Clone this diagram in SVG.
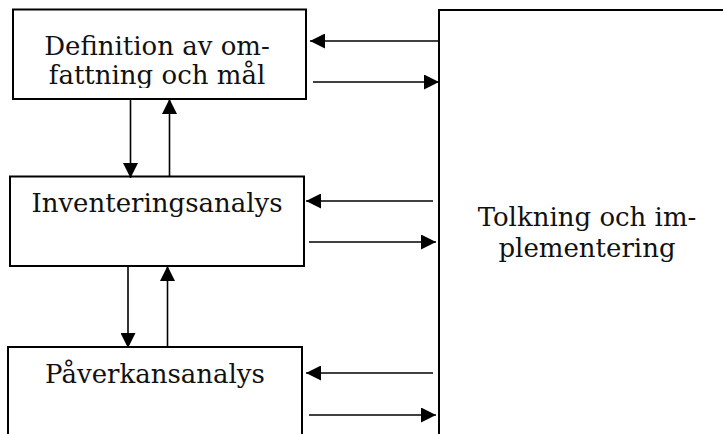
<svg xmlns="http://www.w3.org/2000/svg" width="723" height="434" viewBox="0 0 723 434">
<style>
.box{fill:#fff;stroke:#000;stroke-width:2}
.t{font-family:"DejaVu Serif","Liberation Serif",serif;font-size:26px;fill:#111;text-anchor:middle}
.c{stroke:#000;stroke-width:1.6;fill:none}
</style>
<defs>
<marker id="ah" markerWidth="15" markerHeight="15" viewBox="0 0 15 15" refX="15" refY="7.5" orient="auto" markerUnits="userSpaceOnUse">
<path d="M0,0 L15,7.5 L0,15 Z" fill="#000"/>
</marker>
<clipPath id="cl1"><rect x="14" y="10" width="291" height="78"/></clipPath>
</defs>
<rect width="723" height="434" fill="#fff"/>
<g id="tolkning">
<rect class="box" x="439" y="10" width="300" height="440"/>
<text class="t" x="587" y="226">Tolkning och im-</text>
<text class="t" x="587" y="257">plementering</text>
</g>
<g id="definition">
<rect class="box" x="13" y="9.5" width="293" height="89.5"/>
<g clip-path="url(#cl1)">
<text class="t" x="157" y="55">Definition av om-</text>
<text class="t" x="157" y="84">fattning och mål</text>
</g>
</g>
<g id="inventering">
<rect class="box" x="10" y="176.5" width="294" height="89.5"/>
<text class="t" x="157" y="212">Inventeringsanalys</text>
</g>
<g id="paverkan">
<rect class="box" x="8" y="347" width="294" height="110"/>
<text class="t" x="155" y="383">Påverkansanalys</text>
</g>
<g id="connectors">
<line class="c" x1="438" y1="41" x2="310" y2="41" marker-end="url(#ah)"/>
<line class="c" x1="313" y1="82" x2="439" y2="82" marker-end="url(#ah)"/>
<line class="c" x1="130.5" y1="100" x2="130.5" y2="178" marker-end="url(#ah)"/>
<line class="c" x1="169.5" y1="176" x2="169.5" y2="99" marker-end="url(#ah)"/>
<line class="c" x1="433" y1="201" x2="306" y2="201" marker-end="url(#ah)"/>
<line class="c" x1="309" y1="242" x2="436" y2="242" marker-end="url(#ah)"/>
<line class="c" x1="128" y1="267" x2="128" y2="348" marker-end="url(#ah)"/>
<line class="c" x1="167.5" y1="347" x2="167.5" y2="266" marker-end="url(#ah)"/>
<line class="c" x1="433" y1="373" x2="306" y2="373" marker-end="url(#ah)"/>
<line class="c" x1="309" y1="415" x2="436" y2="415" marker-end="url(#ah)"/>
</g>
</svg>
